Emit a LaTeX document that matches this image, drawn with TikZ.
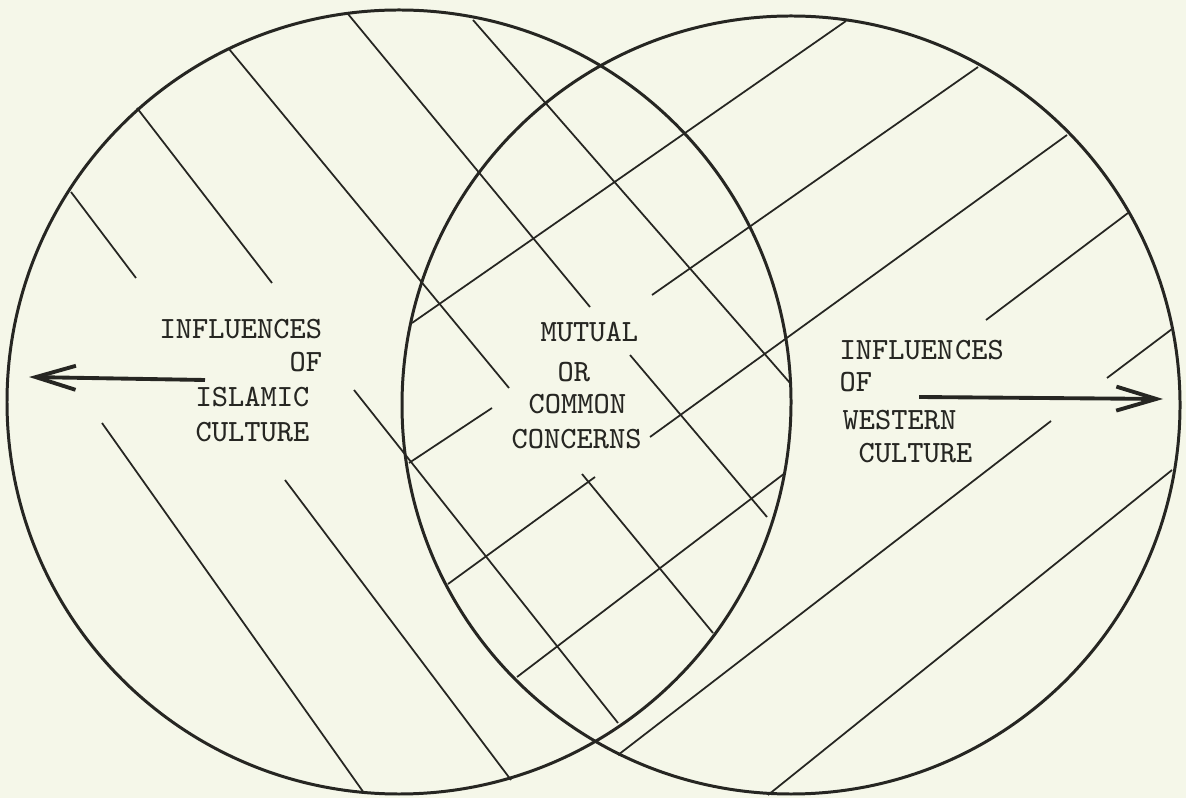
\documentclass[tikz,border=0pt]{standalone}
\usetikzlibrary{arrows.meta}
\definecolor{paper}{RGB}{245,247,233}
\definecolor{ink}{RGB}{38,38,34}

\begin{document}
\begin{tikzpicture}[
  x=0.01cm, y=-0.01cm,
  rim/.style={draw=ink, line width=0.85pt},
  hatch/.style={draw=ink, line width=0.5pt},
  outarrow/.style={draw=ink, line width=1.1pt,
                   -{Straight Barb[length=4mm, width=2.4mm]}},
  typed/.style={inner sep=0pt, anchor=west, text=ink,
                font=\ttfamily\fontsize{8.8}{10}\selectfont}
]
\fill[paper] (0,0) rectangle (1186,798);
\useasboundingbox (0,0) rectangle (1186,798);

% Two overlapping cultures
\draw[rim] (399,402) circle[radius=392];
\draw[rim] (791,405) circle[radius=389];

% Hatching of the Islamic circle
\draw[hatch] (71,192) -- (136,278);
\draw[hatch] (137,108) -- (272,283);
\draw[hatch] (229,49) -- (509,388);
\draw[hatch] (348,14) -- (590,307);
\draw[hatch] (473,20) -- (790,383);
\draw[hatch] (102,423) -- (364,793);
\draw[hatch] (285,480) -- (511,780);
\draw[hatch] (354,390) -- (618,723);
\draw[hatch] (582,474) -- (713,633);
\draw[hatch] (630,355) -- (767,517);

% Hatching of the Western circle
\draw[hatch] (846,21) -- (412,323);
\draw[hatch] (978,67) -- (652,295);
\draw[hatch] (1067,135) -- (650,437);
\draw[hatch] (1128,213) -- (986,320);
\draw[hatch] (1172,329) -- (1107,378);
\draw[hatch] (1051,421) -- (618,755);
\draw[hatch] (1172,470) -- (768,795);
\draw[hatch] (492,408) -- (409,463);
\draw[hatch] (595,477) -- (448,584);
\draw[hatch] (785,473) -- (517,677);

% Left block
\node[typed] (L1) at (159,329) {INFLUENCES};
\node[typed] (L2) at (289,362) {OF};
\node[typed] (L3) at (195,397) {ISLAMIC};
\node[typed] (L4) at (195,432) {CULTURE};

% Middle block
\node[typed] (M1) at (540,332) {MUTUAL};
\node[typed] (M2) at (557,372) {OR};
\node[typed] (M3) at (528,404) {COMMON};
\node[typed] (M4) at (511,439) {CONCERNS};

% Right block
\node[typed] (R1) at (839,350) {INFLUEN\kern0.5pt CES};
\node[typed] (R2) at (839,382) {OF};
\node[typed] (R3) at (842,420) {WESTERN};
\node[typed] (R4) at (858,453) {CULTURE};

% Arrows pointing outwards
\coordinate (lstart) at (205,380);
\coordinate (lend) at (29,377);
\coordinate (rstart) at (919,397);
\coordinate (rend) at (1163,399);
\draw[outarrow] (lstart) -- (lend);
\draw[outarrow] (rstart) -- (rend);

\end{tikzpicture}
\end{document}
